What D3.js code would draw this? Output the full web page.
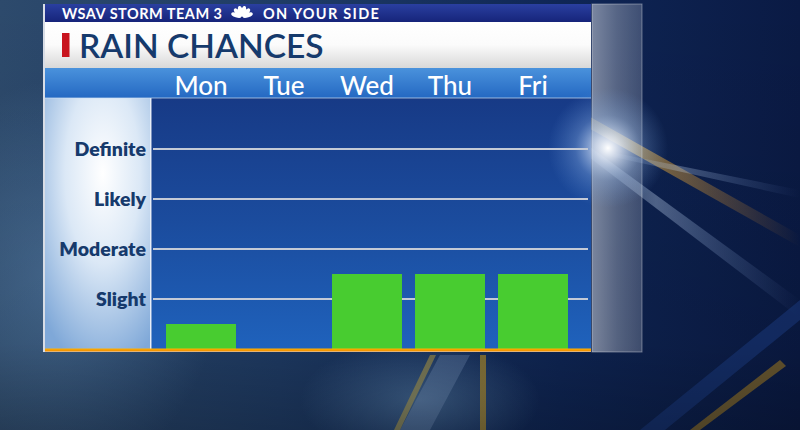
<!DOCTYPE html>
<html><head><meta charset="utf-8">
<script src="https://cdn.jsdelivr.net/npm/d3@7"></script>
<style>html,body{margin:0;padding:0;background:#0d2350;}svg{display:block}</style>
</head><body>
<svg id="c" width="800" height="430"></svg>
<script>
const days = ["Mon", "Tue", "Wed", "Thu", "Fri"];
const chanceValues = [0.5, 0, 1.5, 1.5, 1.5];
const levelLabels = ["Slight", "Moderate", "Likely", "Definite"];
const levelValues = [1, 2, 3, 4];
const topText1 = "WSAV STORM TEAM 3";
const topText2 = "ON YOUR SIDE";
const titleText = "RAIN CHANCES";

const svg = d3.select("#c");
const defs = svg.append("defs");
const font = "Lato, 'Open Sans', sans-serif";

function lg(id, x1, y1, x2, y2, stops) {
  const g = defs.append("linearGradient").attr("id", id)
    .attr("x1", x1).attr("y1", y1).attr("x2", x2).attr("y2", y2);
  stops.forEach(s => g.append("stop").attr("offset", s[0]).attr("stop-color", s[1]).attr("stop-opacity", s[2] == null ? 1 : s[2]));
}
lg("bg", 0, 0, 1, 0, [[0, "#2d4a6c"], [0.35, "#1f3c66"], [0.7, "#0f2656"], [1, "#0a1a44"]]);
lg("bgv", 0, 0, 0, 1, [[0, "#000", 0], [0.8, "#000", 0.1], [1, "#000", 0.25]]);
lg("topbar", 0, 0, 0, 1, [[0, "#2a3fa0"], [1, "#16247a"]]);
lg("titleband", 0, 0, 0, 1, [[0, "#ffffff"], [0.5, "#fbfbfb"], [1, "#d8d8d8"]]);
lg("header", 0, 0, 0, 1, [[0, "#4a92dc"], [1, "#2468c2"]]);
lg("plot", 0, 0, 0, 1, [[0, "#173a86"], [0.5, "#1b4c9e"], [1, "#1f62bc"]]);
lg("strip", 0, 0, 1, 0, [[0, "#ffffff", 0.45], [0.5, "#ffffff", 0.3], [1, "#ffffff", 0.2]]);
lg("streak", 0, 0, 1, 0, [[0, "#ffcc55", 0], [0.3, "#ffc040", 0.7], [1, "#ff9a20", 0]]);
lg("streakb", 0, 0, 1, 0, [[0, "#bcd8ff", 0], [0.4, "#cfe4ff", 0.6], [1, "#8fb8ff", 0]]);
lg("orange", 0, 0, 0, 1, [[0, "#ffb000"], [1, "#f08a00"]]);
const rg = defs.append("radialGradient").attr("id", "labelcol").attr("cx", 0.55).attr("cy", 0.3).attr("r", 0.8);
rg.append("stop").attr("offset", 0).attr("stop-color", "#ffffff");
rg.append("stop").attr("offset", 0.45).attr("stop-color", "#dbe8f6");
rg.append("stop").attr("offset", 1).attr("stop-color", "#7fa8d8");
const flare = defs.append("radialGradient").attr("id", "flare").attr("cx", 0.5).attr("cy", 0.5).attr("r", 0.5);
flare.append("stop").attr("offset", 0).attr("stop-color", "#ffffff").attr("stop-opacity", 1);
flare.append("stop").attr("offset", 0.2).attr("stop-color", "#e6f0ff").attr("stop-opacity", 0.75);
flare.append("stop").attr("offset", 0.55).attr("stop-color", "#9cc0f0").attr("stop-opacity", 0.3);
flare.append("stop").attr("offset", 1).attr("stop-color", "#6f9ee0").attr("stop-opacity", 0);
const glowL = defs.append("radialGradient").attr("id", "glowL").attr("cx", 0.5).attr("cy", 0.5).attr("r", 0.5);
glowL.append("stop").attr("offset", 0).attr("stop-color", "#5c86b0").attr("stop-opacity", 0.6);
glowL.append("stop").attr("offset", 1).attr("stop-color", "#5c86b0").attr("stop-opacity", 0);

// Background
svg.append("rect").attr("width", 800).attr("height", 430).attr("fill", "url(#bg)");
svg.append("ellipse").attr("cx", 60).attr("cy", 280).attr("rx", 160).attr("ry", 200).attr("fill", "url(#glowL)");
svg.append("ellipse").attr("cx", 420).attr("cy", 400).attr("rx", 120).attr("ry", 60).attr("fill", "url(#glowL)");
const streaks = svg.append("g");
streaks.append("path").attr("d", "M560,100 L800,235 L800,247 L560,112 Z").attr("fill", "url(#streak)").attr("opacity", 0.8);
streaks.append("path").attr("d", "M560,125 L800,300 L800,318 L560,135 Z").attr("fill", "url(#streakb)").attr("opacity", 0.6);
streaks.append("path").attr("d", "M600,150 L800,190 L800,198 L600,154 Z").attr("fill", "url(#streakb)").attr("opacity", 0.5);
streaks.append("path").attr("d", "M640,430 L800,300 L800,320 L665,430 Z").attr("fill", "#1a3a80").attr("opacity", 0.6);
streaks.append("path").attr("d", "M690,430 L780,360 L786,366 L700,430 Z").attr("fill", "#b88a20").attr("opacity", 0.55);
streaks.append("path").attr("d", "M440,355 L470,355 L430,430 L400,430 Z").attr("fill", "#9ab8e0").attr("opacity", 0.25);
streaks.append("path").attr("d", "M480,355 L486,355 L486,430 L480,430 Z").attr("fill", "#d0a020").attr("opacity", 0.6);
streaks.append("path").attr("d", "M430,355 L436,355 L400,430 L394,430 Z").attr("fill", "#d0b040").attr("opacity", 0.5);
svg.append("rect").attr("width", 800).attr("height", 430).attr("fill", "url(#bgv)");

// Panel
const panel = svg.append("g");
panel.append("rect").attr("x", 43).attr("y", 4).attr("width", 548).attr("height", 348).attr("fill", "#d8dde6");
panel.append("rect").attr("x", 45).attr("y", 4).attr("width", 546).attr("height", 18).attr("fill", "url(#topbar)");
panel.append("rect").attr("x", 45).attr("y", 22).attr("width", 546).attr("height", 46).attr("fill", "url(#titleband)");
panel.append("rect").attr("x", 45).attr("y", 68).attr("width", 546).attr("height", 30).attr("fill", "url(#header)");
panel.append("rect").attr("x", 45).attr("y", 98).attr("width", 105).attr("height", 251).attr("fill", "url(#labelcol)");
panel.append("rect").attr("x", 150).attr("y", 98).attr("width", 1.5).attr("height", 251).attr("fill", "#e8eef8");
panel.append("rect").attr("x", 151.5).attr("y", 98).attr("width", 439.5).attr("height", 251).attr("fill", "url(#plot)");
panel.append("rect").attr("x", 45).attr("y", 97.5).attr("width", 546).attr("height", 1).attr("fill", "#cfe0f4").attr("opacity", 0.7);
// translucent strip
svg.append("rect").attr("x", 592).attr("y", 4).attr("width", 50).attr("height", 348).attr("fill", "url(#strip)")
  .attr("stroke", "#ffffff").attr("stroke-opacity", 0.35);
svg.append("ellipse").attr("cx", 608).attr("cy", 148).attr("rx", 60).attr("ry", 60).attr("fill", "url(#flare)");

// top bar text
const tb = svg.append("g").attr("font-family", font).attr("font-weight", 700).attr("font-size", 14.5).attr("fill", "#ffffff");
tb.append("text").attr("x", 62).attr("y", 18.5).attr("letter-spacing", 0.5).text(topText1);
tb.append("text").attr("x", 263).attr("y", 18.5).attr("letter-spacing", 1.3).text(topText2);
// peacock icon
const pk = svg.append("g").attr("transform", "translate(242,17)");
[-72, -43, -14, 14, 43, 72].forEach(a => {
  pk.append("ellipse").attr("cx", 0).attr("cy", -6).attr("rx", 2.3).attr("ry", 5.3)
    .attr("fill", "#ffffff").attr("transform", `rotate(${a})`);
});

// title
svg.append("rect").attr("x", 62).attr("y", 33).attr("width", 7.5).attr("height", 24).attr("fill", "#c8141e");
svg.append("text").attr("x", 79).attr("y", 57.5).attr("font-family", font).attr("font-weight", 600)
  .attr("font-size", 33.5).attr("fill", "#163a6c").text(titleText);

// Scales
const x = d3.scaleBand().domain(days).range([159.5, 574.5]).paddingInner(0.157).paddingOuter(0.0785);
const y = d3.scaleLinear().domain([0, 4]).range([349, 149]);

// gridlines
svg.append("g").selectAll("line").data(levelValues).join("line")
  .attr("x1", 153).attr("x2", 588)
  .attr("y1", d => y(d)).attr("y2", d => y(d))
  .attr("stroke", "#c4cad6").attr("stroke-width", 2);

// bars
svg.append("g").selectAll("rect").data(days.map((d, i) => ({ d, v: chanceValues[i] }))).join("rect")
  .attr("x", d => x(d.d)).attr("width", x.bandwidth())
  .attr("y", d => y(d.v)).attr("height", d => y(0) - y(d.v))
  .attr("fill", "#48cc30");

// orange baseline
svg.append("rect").attr("x", 45).attr("y", 348.5).attr("width", 546).attr("height", 3).attr("fill", "url(#orange)");

// x axis (day labels)
const xAxis = svg.append("g").attr("transform", "translate(0,94.5)")
  .call(d3.axisTop(x).tickSize(0).tickPadding(0));
xAxis.select(".domain").remove();
xAxis.selectAll("text").attr("font-family", font).attr("font-size", 26).attr("font-weight", 500)
  .attr("fill", "#ffffff").attr("dy", 0);

// y axis (levels)
const yAxis = svg.append("g").attr("transform", "translate(146,0)")
  .call(d3.axisLeft(y).tickValues(levelValues).tickFormat((d, i) => levelLabels[i]).tickSize(0).tickPadding(0));
yAxis.select(".domain").remove();
yAxis.selectAll("text").attr("font-family", font).attr("font-size", 19.5).attr("font-weight", 800)
  .attr("fill", "#163a6c");
</script>
</body></html>
